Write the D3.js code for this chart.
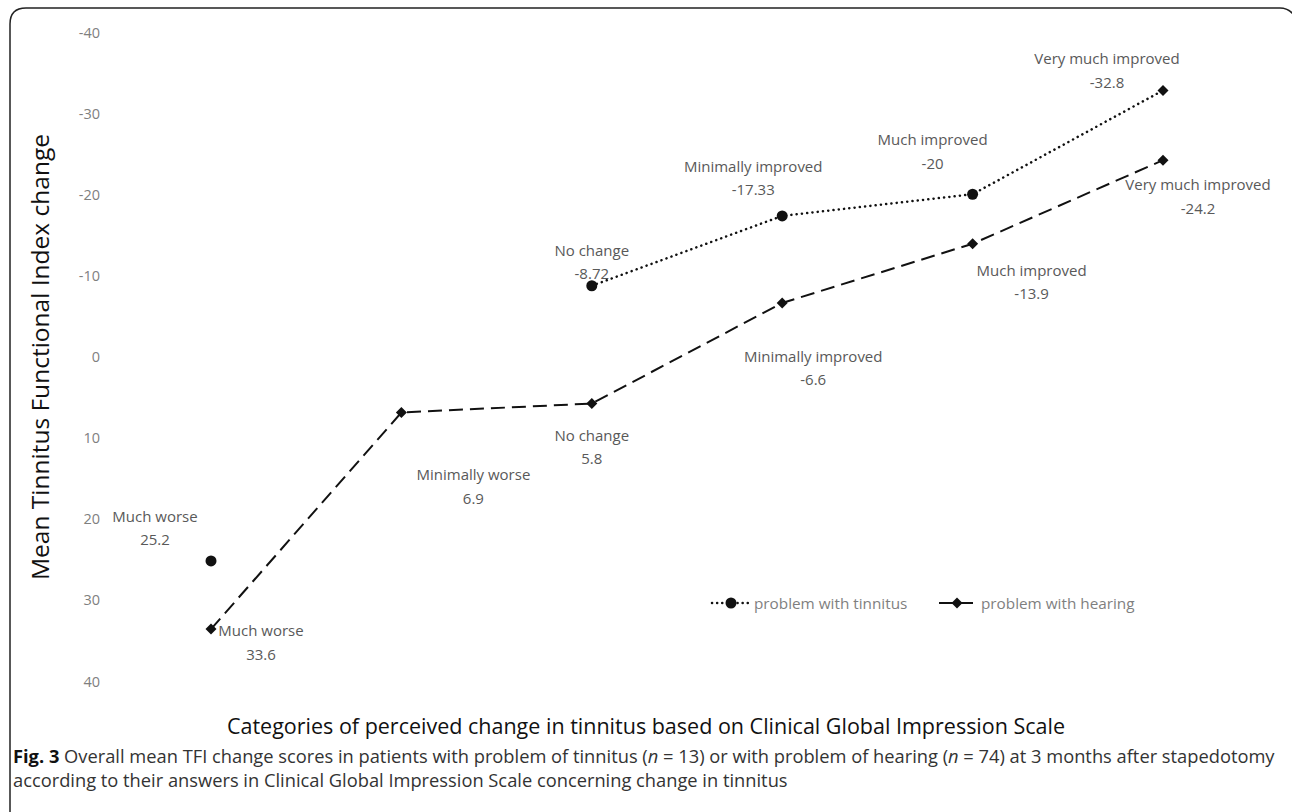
<!DOCTYPE html>
<html><head><meta charset="utf-8">
<script src="https://cdn.jsdelivr.net/npm/d3@7"></script>
<style>
body{margin:0;background:#fff;}
svg{display:block;}
</style></head>
<body>
<svg id="c" width="1292" height="812"></svg>
<script>
const categories = ["Much worse","Minimally worse","No change","Minimally improved","Much improved","Very much improved"];
const tinnitus = [25.2, null, -8.72, -17.33, -20, -32.8];
const tinnitusLabels = ["25.2", null, "-8.72", "-17.33", "-20", "-32.8"];
const hearing = [33.6, 6.9, 5.8, -6.6, -13.9, -24.2];
const hearingLabels = ["33.6", "6.9", "5.8", "-6.6", "-13.9", "-24.2"];
const yTicks = [-40,-30,-20,-10,0,10,20,30,40];
const seriesNames = ["problem with tinnitus","problem with hearing"];

const svg = d3.select("#c");
const font = "'Open Sans', 'Noto Sans', sans-serif";

// border
svg.append("path")
  .attr("d","M10,1300 L10,24 Q10,8 26,8 L1280,8 Q1290,8 1296,18")
  .attr("fill","none").attr("stroke","#222").attr("stroke-width",1.5);

const x = d3.scalePoint().domain(categories).range([211,1163]);
const y = d3.scaleLinear().domain([-40,40]).range([32,681]);

// y tick labels
const yAxis = d3.axisLeft(y).tickValues(yTicks).tickSize(0).tickPadding(0).tickFormat(d=>String(d));
const ga = svg.append("g").attr("transform","translate(100,0)").call(yAxis);
ga.select(".domain").remove();
ga.selectAll("text").attr("font-family",font).attr("font-size",14.5).attr("fill","#7f7f7f").attr("dy","0.35em");

// axis titles
svg.append("text").attr("transform","translate(49,357) rotate(-90)").attr("text-anchor","middle")
  .attr("font-family",font).attr("font-size",24.5).attr("fill","#111").text("Mean Tinnitus Functional Index change");
svg.append("text").attr("x",646).attr("y",734).attr("text-anchor","middle")
  .attr("font-family",font).attr("font-size",21.5).attr("fill","#111")
  .text("Categories of perceived change in tinnitus based on Clinical Global Impression Scale");

// lines
const hearingPts = categories.map((c,i)=>({c,v:hearing[i],l:hearingLabels[i],i}));
const tinPts = categories.map((c,i)=>({c,v:tinnitus[i],l:tinnitusLabels[i],i}));
const line = d3.line().defined(d=>d.v!==null).x(d=>x(d.c)).y(d=>y(d.v));

svg.append("path").datum(hearingPts).attr("d",line).attr("fill","none")
  .attr("stroke","#111").attr("stroke-width",2).attr("stroke-dasharray","14,7");
svg.append("path").datum(tinPts.slice(2)).attr("d",line).attr("fill","none")
  .attr("stroke","#111").attr("stroke-width",2.5).attr("stroke-dasharray","0.1,5.2").attr("stroke-linecap","round");

const diamondPath = "M0,-5.5L5.5,0L0,5.5L-5.5,0Z";
svg.selectAll(".hm").data(hearingPts).join("path")
  .attr("transform",d=>`translate(${x(d.c)},${y(d.v)})`).attr("d",diamondPath).attr("fill","#111");
const tp = tinPts.filter(d=>d.v!==null);
tp.forEach(d=>{
  if(d.i===categories.length-1){
    svg.append("path").attr("transform",`translate(${x(d.c)},${y(d.v)})`).attr("d",diamondPath).attr("fill","#111");
  } else {
    svg.append("circle").attr("cx",x(d.c)).attr("cy",y(d.v)).attr("r",5.5).attr("fill","#111");
  }
});

// data labels (offset of label centre / first baseline from the point)
const tinOff = {0:[-56,-39],2:[0,-30],3:[-29,-44],4:[-40,-49],5:[-56,-26]};
const hearOff = {0:[50,7],1:[72,68],2:[0,37],3:[31,59],4:[59,32],5:[35,30]};
function addLabel(px,py,name,val){
  const t = svg.append("text").attr("text-anchor","middle").attr("font-family",font)
    .attr("font-size",15).attr("fill","#595959");
  t.append("tspan").attr("x",px).attr("y",py).text(name);
  t.append("tspan").attr("x",px).attr("y",py+23.5).text(val);
}
tp.forEach(d=>{const o=tinOff[d.i]; addLabel(x(d.c)+o[0], y(d.v)+o[1], d.c, d.l);});
hearingPts.forEach(d=>{const o=hearOff[d.i]; addLabel(x(d.c)+o[0], y(d.v)+o[1], d.c, d.l);});

// legend
const lg = svg.append("g").attr("font-family",font).attr("font-size",15.3).attr("fill","#7f7f7f");
lg.append("line").attr("x1",712).attr("x2",748).attr("y1",603).attr("y2",603).attr("stroke","#111")
  .attr("stroke-width",2.5).attr("stroke-dasharray","0.1,5").attr("stroke-linecap","round");
lg.append("circle").attr("cx",731).attr("cy",603).attr("r",5.5).attr("fill","#111");
lg.append("text").attr("x",754).attr("y",608.5).text(seriesNames[0]);
lg.append("line").attr("x1",939).attr("x2",973).attr("y1",603).attr("y2",603).attr("stroke","#111").attr("stroke-width",2);
lg.append("path").attr("transform","translate(957,603)").attr("d",diamondPath).attr("fill","#111");
lg.append("text").attr("x",981).attr("y",608.5).text(seriesNames[1]);

// caption
const cap = svg.append("text").attr("font-family",font).attr("font-size",18.3).attr("fill","#333");
cap.append("tspan").attr("x",13).attr("y",763).attr("font-weight","bold").attr("fill","#111").text("Fig. 3");
cap.append("tspan").text(" Overall mean TFI change scores in patients with problem of tinnitus (");
cap.append("tspan").attr("font-style","italic").text("n");
cap.append("tspan").text(" = 13) or with problem of hearing (");
cap.append("tspan").attr("font-style","italic").text("n");
cap.append("tspan").text(" = 74) at 3 months after stapedotomy");
svg.append("text").attr("x",13).attr("y",787).attr("font-family",font).attr("font-size",18.3).attr("fill","#333")
  .text("according to their answers in Clinical Global Impression Scale concerning change in tinnitus");
</script>
</body></html>
